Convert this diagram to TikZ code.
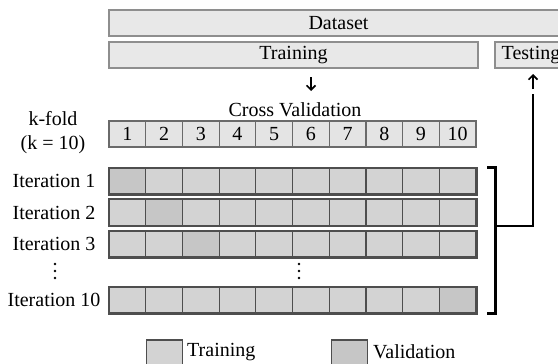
\documentclass[tikz,border=0pt]{standalone}
\usepackage{fontspec}
\setmainfont{Liberation Serif}
\usetikzlibrary{arrows.meta}
\definecolor{hdrfill}{HTML}{E8E8E8}
\definecolor{hdrline}{HTML}{8E8E8E}
\definecolor{numfill}{HTML}{E4E4E4}
\definecolor{numline}{HTML}{6A6A6A}
\definecolor{trainfill}{HTML}{D3D3D3}
\definecolor{validfill}{HTML}{C6C6C6}
\definecolor{cellline}{HTML}{4E4E4E}
\begin{document}
\begin{tikzpicture}[x=1pt,y=-1pt,
  every node/.style={font=\fontsize{20}{23}\selectfont, inner sep=0pt, text=black},
  hdrbox/.style={draw=hdrline, line width=1.5pt, fill=hdrfill, minimum height=26pt},
  numcell/.style={draw=numline, line width=1.2pt, fill=numfill, minimum width=36.7pt, minimum height=26pt},
  tcell/.style={draw=cellline, line width=1.2pt, fill=trainfill, minimum width=36.7pt, minimum height=26pt},
  vcell/.style={tcell, fill=validfill},
  glypharrow/.style={line width=1.6pt, -{Straight Barb[length=4.5pt,width=9pt,line width=1.6pt]}},
  bracket/.style={line width=2.6pt, line cap=rect},
  vdots/.style={fill=black, circle, minimum size=2.8pt}
]
\useasboundingbox (0,0) rectangle (558,364);
\clip (0,0) rectangle (558,364);

% dataset split
\node[hdrbox, minimum width=459pt] (dataset) at (338.5,23) {Dataset};
\node[hdrbox, minimum width=369pt] (training) at (293.5,55) {Training};
\node[hdrbox, minimum width=72pt] (testing) at (531,55) {Testing};

% small arrows below the split
\coordinate (dnA) at (311,77);
\coordinate (dnB) at (311,91);
\draw[glypharrow] (dnA) -- (dnB);
\coordinate (upA) at (533,89);
\coordinate (upB) at (533,74);
\draw[glypharrow] (upA) -- (upB);

\node (cv) at (295,110) {Cross Validation};
\node (kfold) at (53,119) {k-fold};
\node (keq) at (53,145) {(k = 10)};

% fold numbers
\foreach \j in {1,...,10}{
  \node[numcell] (n\j) at ({109+36.7*(\j-0.5)},134) {\j};
}

% iteration rows
\foreach \r/\y/\v in {1/181/1, 2/212.5/2, 3/244/3, 10/300/10}{
  \foreach \j in {1,...,10}{
    \ifnum\j=\v
      \node[vcell] (r\r c\j) at ({109+36.7*(\j-0.5)},\y) {};
    \else
      \node[tcell] (r\r c\j) at ({109+36.7*(\j-0.5)},\y) {};
    \fi
  }
  \draw[cellline, line width=1.8pt] (r\r c1.north west) rectangle (r\r c10.south east);
  \node (it\r) at (54,\y) {Iteration \r};
}

% vertical ellipses
\foreach \x in {55,299}{
  \foreach \yy in {264,271,278}{
    \node[vdots] at (\x,\yy) {};
  }
}

% bracket collecting the iterations and leading to testing
\coordinate (bt) at ([xshift=19pt]r1c10.north east);
\coordinate (bb) at ([xshift=19pt]r10c10.south east);
\coordinate (bm) at (bt |- r2c10.south);
\coordinate (tp) at (533,95);
\draw[bracket] ([xshift=-7pt]bt) -- (bt) -- (bb) -- ([xshift=-7pt]bb);
\draw[bracket] (bm) -- (bm -| tp) -- (tp);

% legend
\node[tcell, minimum height=30pt] (legT) at (164.5,355) {};
\node[anchor=west] (legTt) at (187,352) {Training};
\node[vcell, minimum height=30pt] (legV) at (349.5,355) {};
\node[anchor=west] (legVt) at (373,352) {Validation};
\end{tikzpicture}
\end{document}
